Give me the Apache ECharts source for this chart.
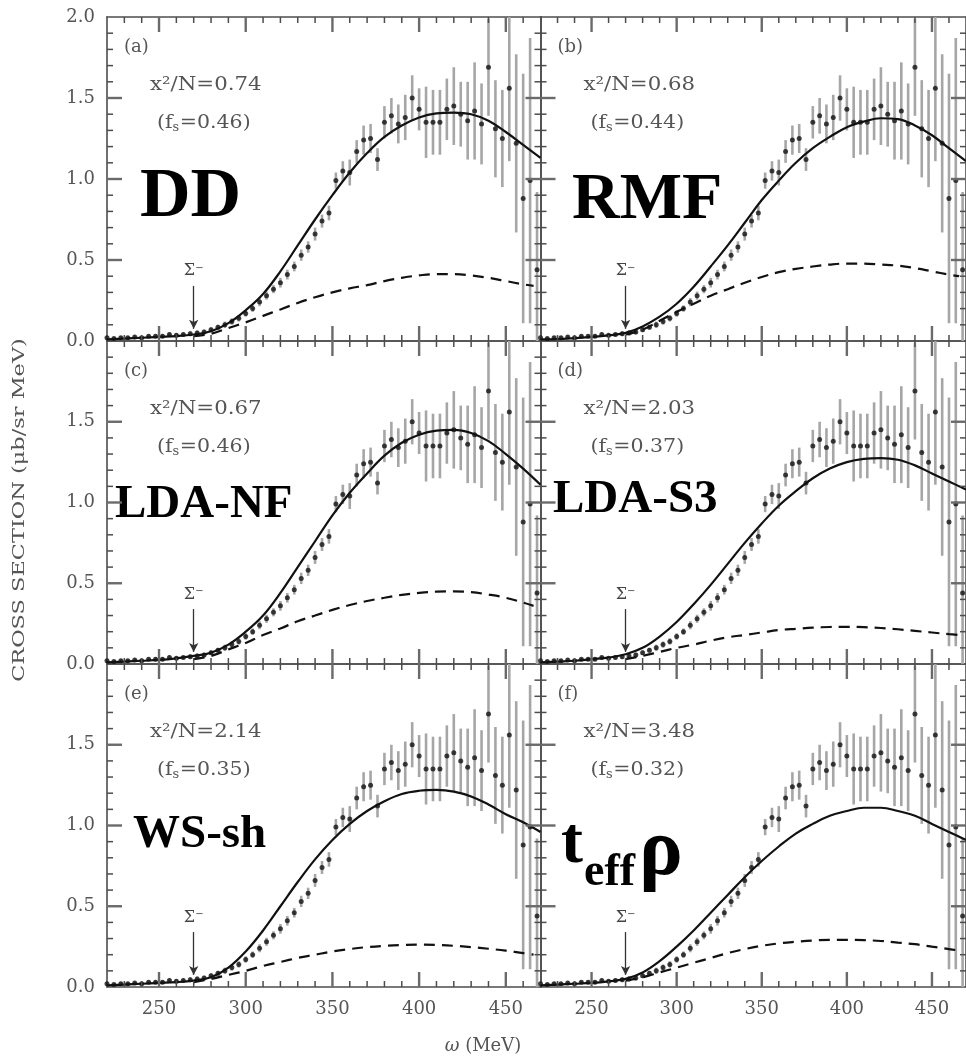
<!DOCTYPE html>
<html>
<head>
<meta charset="utf-8">
<script src="https://cdn.jsdelivr.net/npm/echarts@6/dist/echarts.min.js"></script>
<style>
html,body{margin:0;padding:0;background:#fff;}
#chart{width:966px;height:1060px;}
</style>
</head>
<body>
<div id="chart"></div>
<script>
// energy transfer ω (MeV) of the measured points
const energy = [220,224,228,232,236,240,244,248,252,256,260,264,268,272,276,280,284,288,292,296,300,304,308,312,316,320,324,328,332,336,340,344,348,352,356,360,364,368,372,376,380,384,388,392,396,400,404,408,412,416,420,424,428,432,436,440,444,448,452,456,460,464,468];
// cross section (μb/sr MeV)
const xsec = [0.02,0.015,0.02,0.02,0.025,0.02,0.03,0.03,0.03,0.04,0.035,0.04,0.045,0.05,0.055,0.07,0.085,0.10,0.12,0.14,0.17,0.20,0.24,0.28,0.32,0.36,0.41,0.46,0.53,0.58,0.66,0.74,0.79,0.99,1.05,1.04,1.17,1.24,1.25,1.12,1.35,1.39,1.34,1.38,1.50,1.43,1.35,1.35,1.35,1.43,1.45,1.40,1.36,1.42,1.34,1.69,1.31,1.25,1.56,1.22,0.88,0.99,0.44];
// statistical uncertainty of each point
const xsecErr = [0.01,0.01,0.01,0.01,0.01,0.01,0.01,0.012,0.012,0.012,0.012,0.012,0.015,0.015,0.015,0.015,0.015,0.02,0.02,0.02,0.02,0.02,0.025,0.025,0.025,0.03,0.03,0.03,0.035,0.035,0.04,0.04,0.045,0.05,0.06,0.08,0.07,0.09,0.09,0.07,0.10,0.11,0.12,0.14,0.14,0.13,0.22,0.20,0.20,0.19,0.24,0.20,0.24,0.30,0.25,0.30,0.30,0.30,0.45,0.55,0.77,0.88,0.48];

// model curves
const curveEnergy = [220,230,240,250,260,270,280,290,300,310,320,330,340,350,360,370,380,390,400,410,420,430,440,450,460,470];
const dashEnergy = [270,280,290,300,310,320,330,340,350,360,370,380,390,400,410,420,430,440,450,460,466];

const totalDD  = [0.01,0.015,0.02,0.025,0.03,0.04,0.06,0.11,0.19,0.29,0.43,0.59,0.75,0.90,1.04,1.16,1.26,1.33,1.38,1.405,1.41,1.40,1.36,1.29,1.21,1.13];
const partDD   = [0.03,0.045,0.08,0.115,0.155,0.195,0.235,0.27,0.30,0.325,0.345,0.37,0.39,0.405,0.413,0.413,0.405,0.39,0.37,0.35,0.34];
const totalRMF = [0.01,0.012,0.018,0.025,0.035,0.05,0.09,0.15,0.23,0.335,0.46,0.59,0.73,0.87,0.99,1.10,1.19,1.26,1.32,1.355,1.375,1.37,1.33,1.27,1.19,1.11];
const partRMF  = [0.04,0.07,0.125,0.18,0.23,0.28,0.32,0.36,0.395,0.425,0.445,0.46,0.472,0.478,0.478,0.472,0.465,0.45,0.43,0.41,0.40];
const totalNF  = [0.01,0.015,0.02,0.025,0.035,0.05,0.07,0.12,0.20,0.30,0.44,0.60,0.76,0.92,1.06,1.18,1.29,1.37,1.42,1.445,1.45,1.43,1.38,1.30,1.21,1.11];
const partNF   = [0.03,0.05,0.09,0.13,0.18,0.22,0.265,0.30,0.335,0.365,0.39,0.41,0.428,0.44,0.448,0.45,0.445,0.43,0.41,0.38,0.36];
const totalS3  = [0.01,0.015,0.02,0.03,0.04,0.06,0.10,0.17,0.26,0.37,0.49,0.62,0.75,0.87,0.98,1.07,1.15,1.21,1.25,1.27,1.275,1.265,1.23,1.18,1.13,1.08];
const partS3   = [0.03,0.05,0.075,0.10,0.12,0.145,0.165,0.18,0.195,0.21,0.218,0.225,0.229,0.23,0.228,0.223,0.215,0.205,0.195,0.185,0.18];
const totalWS  = [0.01,0.015,0.02,0.025,0.03,0.04,0.06,0.12,0.22,0.35,0.50,0.65,0.79,0.91,1.01,1.09,1.15,1.195,1.215,1.22,1.21,1.18,1.13,1.07,1.02,0.96];
const partWS   = [0.03,0.05,0.075,0.10,0.13,0.155,0.18,0.20,0.22,0.235,0.247,0.255,0.26,0.262,0.26,0.255,0.247,0.237,0.225,0.21,0.20];
const totalT   = [0.01,0.015,0.02,0.025,0.035,0.05,0.09,0.16,0.25,0.35,0.46,0.57,0.68,0.78,0.87,0.95,1.01,1.06,1.09,1.11,1.11,1.09,1.06,1.01,0.96,0.91];
const partT    = [0.04,0.06,0.09,0.12,0.15,0.18,0.21,0.235,0.255,0.27,0.28,0.288,0.292,0.292,0.29,0.285,0.275,0.265,0.25,0.235,0.225];

const panelTags = ['(a)','(b)','(c)','(d)','(e)','(f)'];
const chiValues = ['0.74','0.68','0.67','2.03','2.14','3.48'];
const fsValues  = ['0.46','0.44','0.46','0.37','0.35','0.32'];
const modelNames = ['DD','RMF','LDA-NF','LDA-S3','WS-sh'];

// ω tick labels (category positions every 10 MeV, labelled every 50 MeV)
const xTickLabels = ['220','230','240','250','260','270','280','290','300','310','320','330','340','350','360','370','380','390','400','410','420','430','440','450','460','470'];
const xMajorTicks = [250,300,350,400,450];
const xMinorTicks = [230,240,260,270,280,290,310,320,330,340,360,370,380,390,410,420,430,440,460];
const yMajorTicks = [0.5,1.0,1.5];
const yMinorTicks = [0.1,0.2,0.3,0.4,0.6,0.7,0.8,0.9,1.1,1.2,1.3,1.4,1.6,1.7,1.8,1.9];
const sigmaEnergy = 270;

const totals = [totalDD,totalRMF,totalNF,totalS3,totalWS,totalT];
const parts  = [partDD,partRMF,partNF,partS3,partWS,partT];

const X_MIN = 220, X_MAX = 470, Y_MIN = 0, Y_MAX = 2;
const FRAME = '#4d4d4d';
const MAJOR_TICK = '#6a6a6a';
const TEXT = '#555';
const SERIF = 'DejaVu Serif';
const BOLD = 'Liberation Serif';
const MAJOR_LEN = 15, MINOR_LEN = 6;

const colBoxes = [{left:107, width:433.5},{left:540.5, width:433.5}];
const rowBoxes = [{top:17, height:324},{top:341, height:323},{top:664, height:323}];

const mctx = document.createElement('canvas').getContext('2d');
function textWidth(t, size, family) {
  mctx.font = size + 'px "' + family + '"';
  return mctx.measureText(t).width;
}

const grids = [], xAxes = [], yAxes = [], series = [], graphics = [];
const frameLine = {color:FRAME, width:1.6};
const isMajor = (idx, val) => Number(val) % 50 === 0;

function xValueAxis(i, pos) {
  return {type:'value', gridIndex:i, position:pos, min:X_MIN, max:X_MAX,
    splitLine:{show:false}, axisLine:{show:false, onZero:false},
    axisTick:{show:false}, axisLabel:{show:false}};
}
function xLabelAxis(i, pos, labels) {
  return {type:'category', gridIndex:i, position:pos, data:xTickLabels, boundaryGap:false,
    splitLine:{show:false}, axisLine:{show:true, onZero:false, lineStyle:frameLine},
    axisTick:{show:false},
    axisLabel:{show:labels, interval:isMajor, color:TEXT, fontFamily:SERIF, fontSize:18, margin:13}};
}
function yAxisDef(i, pos, labels, hideMax) {
  return {type:'value', gridIndex:i, position:pos, min:Y_MIN, max:Y_MAX, interval:0.5,
    splitLine:{show:false}, axisLine:{show:true, onZero:false, lineStyle:frameLine},
    axisTick:{show:false},
    axisLabel:{show:labels, showMaxLabel:!hideMax, color:TEXT, fontFamily:SERIF, fontSize:18, margin:12,
      formatter: v => v.toFixed(1)}};
}

for (let i = 0; i < 6; i++) {
  const r = Math.floor(i/2), c = i % 2;
  const cb = colBoxes[c], rb = rowBoxes[r];
  grids.push({left:cb.left, top:rb.top, width:cb.width, height:rb.height, containLabel:false});
  xAxes.push(xValueAxis(i, 'bottom'));
  xAxes.push(xLabelAxis(i, 'bottom', r === 2));
  xAxes.push(xLabelAxis(i, 'top', false));
  yAxes.push(yAxisDef(i, 'left', c === 0, r > 0));
  yAxes.push(yAxisDef(i, 'right', false, false));

  const xi = 3*i, yi = 2*i;

  // inward edge ticks: [ω, σ, major flag, direction code]
  const tickData = [];
  xMajorTicks.forEach(v => { tickData.push([v, Y_MIN, 1, 0]); tickData.push([v, Y_MAX, 1, 1]); });
  xMinorTicks.forEach(v => { tickData.push([v, Y_MIN, 0, 0]); tickData.push([v, Y_MAX, 0, 1]); });
  yMajorTicks.forEach(v => { tickData.push([X_MIN, v, 1, 2]); tickData.push([X_MAX, v, 1, 3]); });
  yMinorTicks.forEach(v => { tickData.push([X_MIN, v, 0, 2]); tickData.push([X_MAX, v, 0, 3]); });
  series.push({
    type:'custom', xAxisIndex:xi, yAxisIndex:yi, clip:false, silent:true, z:10,
    data: tickData,
    renderItem: (params, api) => {
      const p = api.coord([api.value(0), api.value(1)]);
      const major = api.value(2) === 1, d = api.value(3);
      const len = major ? MAJOR_LEN : MINOR_LEN;
      const dx = d === 2 ? len : d === 3 ? -len : 0;
      const dy = d === 0 ? -len : d === 1 ? len : 0;
      return {type:'line', shape:{x1:p[0], y1:p[1], x2:p[0]+dx, y2:p[1]+dy},
              style:{stroke: major ? MAJOR_TICK : FRAME, lineWidth: major ? 2.4 : 1.5}};
    }
  });
  // error bars
  series.push({
    type:'custom', xAxisIndex:xi, yAxisIndex:yi, clip:true, silent:true, z:1,
    data: energy.map((e,k) => [e, xsec[k]-xsecErr[k], xsec[k]+xsecErr[k]]),
    renderItem: (params, api) => {
      const p1 = api.coord([api.value(0), api.value(1)]);
      const p2 = api.coord([api.value(0), api.value(2)]);
      return {type:'line', shape:{x1:p1[0], y1:p1[1], x2:p2[0], y2:p2[1]},
              style:{stroke:'#a6a6a6', lineWidth:2.6}};
    }
  });
  // data points + Σ- threshold marker
  series.push({
    type:'scatter', xAxisIndex:xi, yAxisIndex:yi, clip:true, silent:true, z:3,
    symbol:'circle', symbolSize:5, itemStyle:{color:'#111'},
    data: energy.map((e,k) => [e, xsec[k]]),
    markLine:{
      silent:true, symbol:['none','arrow'], symbolSize:[7,9],
      lineStyle:{color:'#333', width:1.3, type:'solid'}, label:{show:false},
      data:[[{coord:[sigmaEnergy, 0.34]}, {coord:[sigmaEnergy, 0.075]}]]
    },
    markPoint:{
      silent:true, symbol:'circle', symbolSize:0,
      label:{show:true, position:'inside', formatter:'Σ{s|−}', color:'#444', fontFamily:SERIF, fontSize:16,
             rich:{s:{fontSize:10, color:'#444', fontFamily:SERIF, verticalAlign:'top', lineHeight:8}}},
      data:[{coord:[sigmaEnergy, 0.43]}]
    }
  });
  // total model curve
  series.push({
    type:'line', xAxisIndex:xi, yAxisIndex:yi, z:4, silent:true, smooth:0.4, showSymbol:false,
    lineStyle:{color:'#111', width:2.2},
    data: curveEnergy.map((e,k) => [e, totals[i][k]])
  });
  // partial contribution
  series.push({
    type:'line', xAxisIndex:xi, yAxisIndex:yi, z:4, silent:true, smooth:0.4, showSymbol:false,
    lineStyle:{color:'#111', width:2.2, type:[11,7]},
    data: dashEnergy.map((e,k) => [e, parts[i][k]])
  });

  // panel annotations
  const gx = cb.left, gy = rb.top;
  const ann = {fill:TEXT, fontFamily:SERIF, fontSize:19, verticalAlign:'middle'};
  graphics.push({type:'text', x:gx+17, y:gy+30, style:Object.assign({text:panelTags[i]}, ann, {fontSize:18})});
  graphics.push({type:'text', x:gx+43, y:gy+68, scaleX:1.12, style:Object.assign({text:'x²/N='+chiValues[i]}, ann)});
  const w1 = textWidth('(f', 19, SERIF), ws = textWidth('s', 12, SERIF);
  graphics.push({type:'group', x:gx+50, y:gy+106, scaleX:1.08, children:[
    {type:'text', x:0, y:0, style:Object.assign({text:'(f'}, ann)},
    {type:'text', x:w1, y:5, style:Object.assign({text:'s'}, ann, {fontSize:12})},
    {type:'text', x:w1+ws+0.5, y:0, style:Object.assign({text:'='+fsValues[i]+')'}, ann)}
  ]});
}

// model names
const nameStyle = (size) => ({fill:'#000', fontFamily:BOLD, fontWeight:'bold', fontSize:size, verticalAlign:'middle'});
graphics.push({type:'text', x:140, y:198, style:Object.assign({text:modelNames[0]}, nameStyle(70))});
graphics.push({type:'text', x:572, y:201, style:Object.assign({text:modelNames[1]}, nameStyle(66))});
graphics.push({type:'text', x:115, y:505, style:Object.assign({text:modelNames[2]}, nameStyle(47))});
graphics.push({type:'text', x:553, y:500, style:Object.assign({text:modelNames[3]}, nameStyle(47))});
graphics.push({type:'text', x:133, y:835, style:Object.assign({text:modelNames[4]}, nameStyle(47))});
// t_eff ρ
graphics.push({type:'text', x:561, y:845, style:Object.assign({text:'t'}, nameStyle(66))});
graphics.push({type:'text', x:584, y:873, style:Object.assign({text:'eff'}, nameStyle(46))});
graphics.push({type:'text', x:639, y:853, style:Object.assign({text:'ρ'}, nameStyle(82))});

// axis titles
graphics.push({type:'text', x:20, y:510, rotation:Math.PI/2, scaleX:1.32, style:{
  text:'CROSS SECTION (μb/sr MeV)', fill:TEXT, fontFamily:SERIF, fontSize:17, align:'center', verticalAlign:'middle'}});
graphics.push({type:'text', x:483, y:1046, style:{
  text:'{i|ω} (MeV)', fill:TEXT, fontFamily:SERIF, fontSize:18, align:'center', verticalAlign:'middle',
  rich:{i:{fontStyle:'italic', fontSize:18, fill:TEXT, fontFamily:SERIF}}}});

const chart = echarts.init(document.getElementById('chart'), null, {renderer:'canvas'});
chart.setOption({
  backgroundColor:'#fff',
  animation:false,
  grid:grids, xAxis:xAxes, yAxis:yAxes, series:series, graphic:graphics
});
</script>
</body>
</html>
